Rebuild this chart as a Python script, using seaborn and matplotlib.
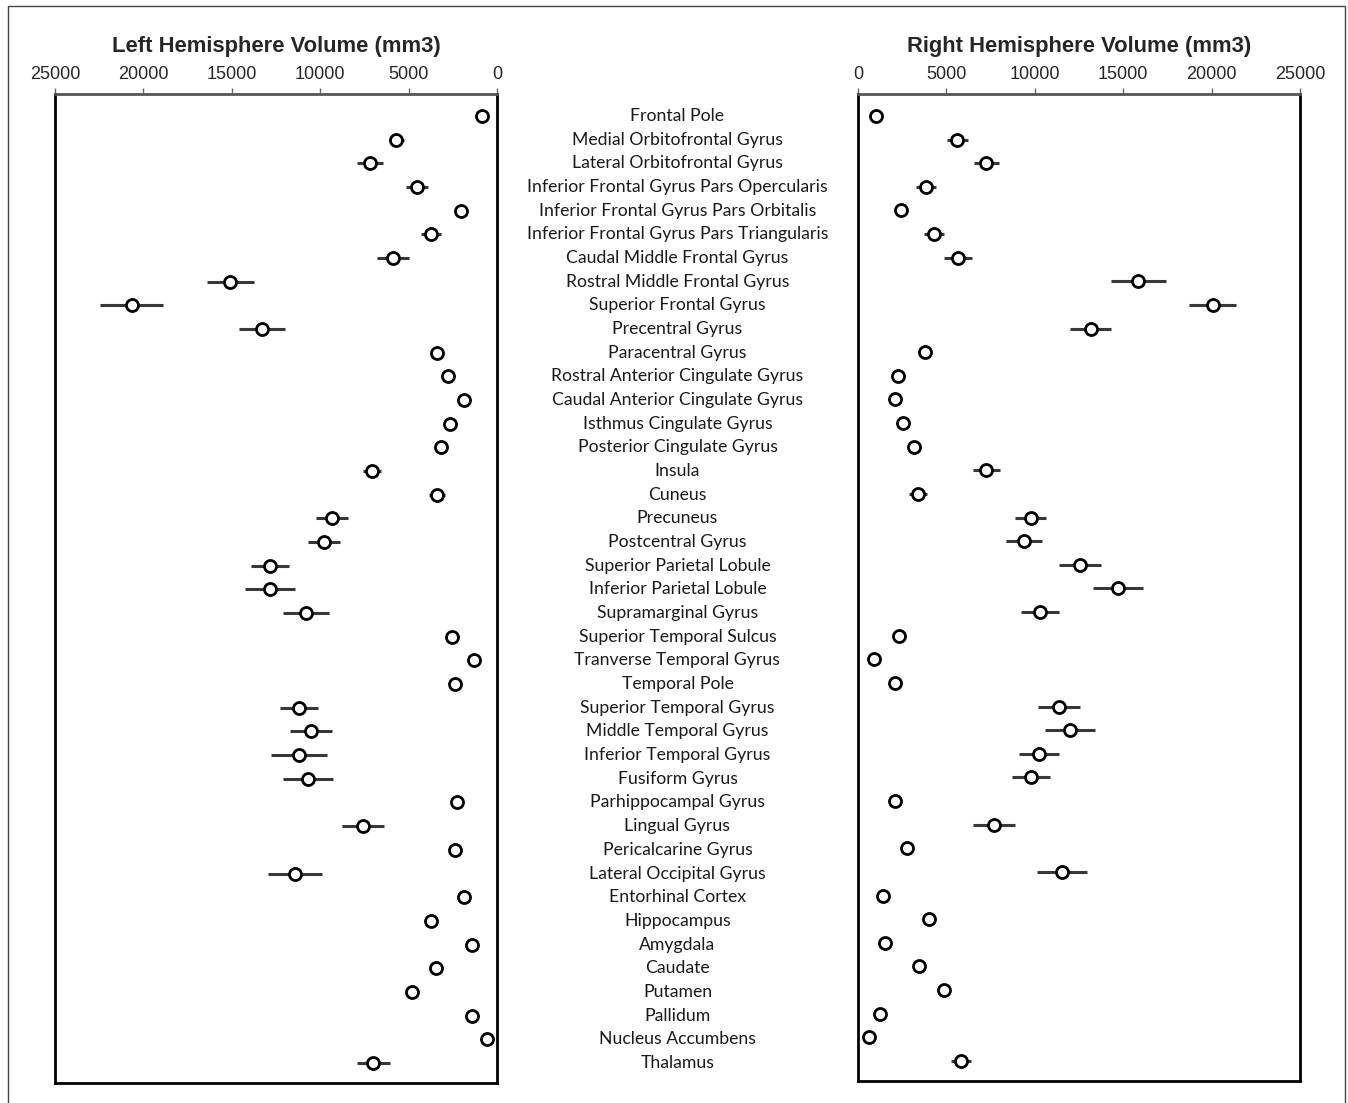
import numpy as np
import pandas as pd

import matplotlib
matplotlib.use("Agg")
import matplotlib.pyplot as plt
import seaborn as sns

# Regions, top to bottom
regions = [
    "Frontal Pole",
    "Medial Orbitofrontal Gyrus",
    "Lateral Orbitofrontal Gyrus",
    "Inferior Frontal Gyrus Pars Opercularis",
    "Inferior Frontal Gyrus Pars Orbitalis",
    "Inferior Frontal Gyrus Pars Triangularis",
    "Caudal Middle Frontal Gyrus",
    "Rostral Middle Frontal Gyrus",
    "Superior Frontal Gyrus",
    "Precentral Gyrus",
    "Paracentral Gyrus",
    "Rostral Anterior Cingulate Gyrus",
    "Caudal Anterior Cingulate Gyrus",
    "Isthmus Cingulate Gyrus",
    "Posterior Cingulate Gyrus",
    "Insula",
    "Cuneus",
    "Precuneus",
    "Postcentral Gyrus",
    "Superior Parietal Lobule",
    "Inferior Parietal Lobule",
    "Supramarginal Gyrus",
    "Superior Temporal Sulcus",
    "Tranverse Temporal Gyrus",
    "Temporal Pole",
    "Superior Temporal Gyrus",
    "Middle Temporal Gyrus",
    "Inferior Temporal Gyrus",
    "Fusiform Gyrus",
    "Parhippocampal Gyrus",
    "Lingual Gyrus",
    "Pericalcarine Gyrus",
    "Lateral Occipital Gyrus",
    "Entorhinal Cortex",
    "Hippocampus",
    "Amygdala",
    "Caudate",
    "Putamen",
    "Pallidum",
    "Nucleus Accumbens",
    "Thalamus",
]

# Left hemisphere volume (mm3) and error
left_mean = [870, 5700, 7180, 4520, 2040, 3730, 5880, 15100, 20650, 13290,
             3390, 2770, 1870, 2660, 3170, 7070, 3390, 9330, 9780, 12840,
             12840, 10800, 2550, 1300, 2380, 11200, 10520, 11200, 10690, 2260,
             7580, 2380, 11420, 1870, 3730, 1410, 3450, 4810, 1410, 570,
             7010]
left_err = [100, 420, 740, 640, 200, 570, 930, 1330, 1780, 1280,
            250, 250, 150, 150, 150, 500, 450, 930, 890, 1070,
            1430, 1280, 150, 100, 150, 1100, 1160, 1560, 1410, 100,
            1200, 200, 1520, 100, 250, 50, 250, 300, 50, 30,
            930]

# Right hemisphere volume (mm3) and error
right_mean = [1020, 5620, 7260, 3850, 2410, 4300, 5640, 15860, 20060, 13160,
              3770, 2240, 2070, 2530, 3150, 7260, 3410, 9770, 9390, 12540,
              14690, 10290, 2340, 900, 2070, 11370, 11990, 10220, 9770, 2090,
              7690, 2790, 11560, 1430, 4030, 1530, 3470, 4850, 1260, 640,
              5830]
right_err = [80, 580, 700, 550, 100, 575, 780, 1560, 1320, 1150,
             200, 100, 200, 150, 150, 770, 510, 880, 1020, 1190,
             1410, 1060, 100, 50, 100, 1190, 1410, 1140, 1080, 100,
             1190, 200, 1410, 100, 200, 100, 200, 200, 50, 50,
             570]

df = pd.DataFrame({
    "region": regions,
    "left": left_mean,
    "left_err": left_err,
    "right": right_mean,
    "right_err": right_err,
})
df["pos"] = np.arange(len(df))

sns.set_theme(style="white")
plt.rcParams["font.family"] = ["Liberation Sans", "DejaVu Sans"]

W, H = 1348, 1103
fig = plt.figure(figsize=(W / 100, H / 100), dpi=100)
ax_l = fig.add_axes([55 / W, 20 / H, 442 / W, 989 / H])
ax_r = fig.add_axes([858 / W, 22 / H, 442 / W, 987 / H])

panels = [
    (ax_l, "left", "left_err", "Left Hemisphere Volume (mm3)", (25000, 0)),
    (ax_r, "right", "right_err", "Right Hemisphere Volume (mm3)", (0, 25000)),
]

for ax, col, err, title, xlim in panels:
    # error bars
    ax.hlines(df["pos"], df[col] - df[err], df[col] + df[err],
              color="#383838", lw=2.2, zorder=2)
    # open circle means
    sns.scatterplot(data=df, x=col, y="pos", ax=ax, s=75,
                    color="white", edgecolor="black", linewidth=2.0,
                    zorder=3, legend=False)

    ax.set_xlim(*xlim)
    ax.set_ylim(40.85, -0.93)
    ax.set_xticks(np.arange(0, 25001, 5000))
    ax.set_yticks([])
    ax.set_xlabel("")
    ax.set_ylabel("")
    ax.xaxis.tick_top()
    ax.tick_params(axis="x", direction="out", length=4, width=1,
                   color="#666666", labelsize=13, pad=4)
    for side in ["left", "right", "bottom"]:
        ax.spines[side].set_linewidth(2)
        ax.spines[side].set_color("black")
    ax.spines["top"].set_linewidth(2)
    ax.spines["top"].set_color("#555555")
    ax.set_title(title, fontsize=15.8, fontweight="bold", pad=10)

# region names in the middle gap
mid = (677.5 - 55) / 442
for _, row in df.iterrows():
    ax_l.text(mid, row["pos"], row["region"], transform=ax_l.get_yaxis_transform(),
              ha="center", va="center", fontsize=12.7, family="Lato",
              color="#1a1a1a")

# thin outer frame, open at the bottom
frame = plt.Rectangle((8 / W, -0.01), (1345 - 8) / W, 1 - 6 / H + 0.01,
                      transform=fig.transFigure, fill=False,
                      edgecolor="#444444", lw=1)
fig.add_artist(frame)

fig.savefig("out.png", dpi=100)
